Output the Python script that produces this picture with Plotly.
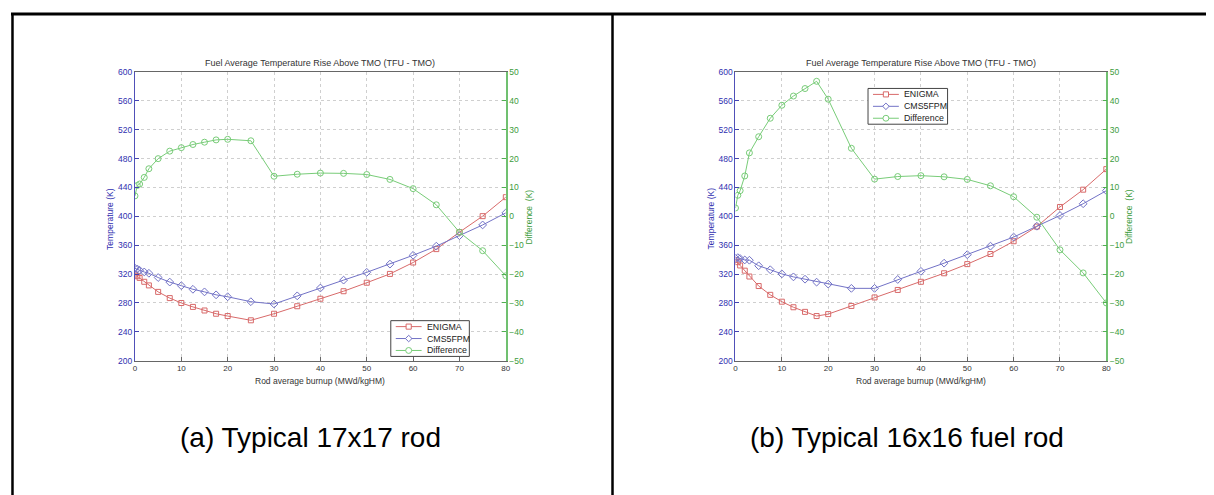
import plotly.graph_objects as go

# ---------------- data ----------------
burnup = [0, 0.5, 1, 2, 3, 5, 7.5, 10, 12.5, 15, 17.5, 20, 25, 30, 35, 40, 45, 50, 55, 60, 65, 70, 75, 80]

enigma_a = [319.3, 317.0, 314.7, 309.3, 304.3, 295.3, 286.7, 279.9, 274.5, 269.5, 265.0, 261.8,
            255.9, 265.0, 275.4, 285.8, 296.2, 308.0, 320.2, 336.0, 354.6, 378.1, 400.3, 426.6]
cms_a = [327.9, 327.0, 325.2, 322.9, 321.1, 315.2, 308.9, 303.9, 298.9, 295.3, 291.2, 288.5,
         281.7, 278.5, 289.8, 300.7, 311.6, 322.4, 333.8, 346.0, 358.7, 373.2, 388.1, 404.8]
diff_a = [7.1, 10.7, 11.2, 13.5, 16.5, 20.0, 22.6, 23.8, 24.9, 25.7, 26.5, 26.7,
          26.2, 13.9, 14.6, 15.0, 14.9, 14.5, 12.8, 9.6, 4.0, -5.5, -11.9, -20.6]

enigma_b = [339.6, 336.5, 331.9, 324.7, 316.6, 303.4, 291.2, 281.7, 274.0, 267.6, 261.8, 264.5,
            275.8, 287.6, 298.0, 309.3, 321.1, 333.8, 347.8, 365.5, 385.8, 413.0, 437.0, 465.5]
cms_b = [341.9, 342.8, 341.5, 339.6, 339.2, 331.5, 326.0, 320.2, 316.1, 312.9, 308.8, 306.1,
         300.2, 300.2, 312.5, 323.8, 335.1, 346.9, 358.7, 371.3, 386.3, 401.2, 417.5, 435.6]
diff_b = [2.9, 7.3, 8.9, 14.0, 22.0, 27.6, 34.0, 38.5, 41.7, 44.3, 46.8, 40.6,
          23.6, 12.9, 13.8, 14.1, 13.7, 12.8, 10.6, 6.8, -0.3, -11.6, -19.6, -30.0]

series_names = ["ENIGMA", "CMS5FPM", "Difference"]
captions = ["(a) Typical 17x17 rod", "(b) Typical 16x16 fuel rod"]
chart_title = "Fuel Average Temperature Rise Above TMO (TFU - TMO)"
x_title = "Rod average burnup (MWd/kgHM)"
y1_title = "Temperature (K)"
y2_title = "Difference  (K)"

# ---------------- layout helpers ----------------
OFF = 8                      # page body margin
W, H = 1214, 495


def px(x):
    return (x - OFF) / W


def py(y):
    return 1 - (y - OFF) / H


RED = "#d86a6a"
BLUE = "#7272c6"
GREEN = "#78cc78"
BLUE_TXT = "#3030b0"
GREEN_TXT = "#3c9c3c"
FONT = "Liberation Sans, Arial, sans-serif"
COLORS = [RED, BLUE, GREEN]

fig = go.Figure()

panels = [
    dict(ena=enigma_a, cms=cms_a, dif=diff_a, x0=133.7, x1=506.7, xa="x", ya="y", ya2="y2",
         leg=(391, 470, 322, 358.5)),
    dict(ena=enigma_b, cms=cms_b, dif=diff_b, x0=737.7, x1=1110.7, xa="x2", ya="y3", ya2="y4",
         leg=(871, 951, 85, 121.5)),
]

ytop, ybot = 68.3, 362.8


def legend_marker(kind, cx, cy, color):
    r = 2.6
    if kind == 0:
        fig.add_shape(type="rect", xref="paper", yref="paper", x0=px(cx - r), x1=px(cx + r),
                      y0=py(cy + r), y1=py(cy - r), line=dict(color=color, width=1),
                      fillcolor="white")
    elif kind == 1:
        d = 3.3
        path = (f"M {px(cx)},{py(cy - d)} L {px(cx + d)},{py(cy)} L {px(cx)},{py(cy + d)} "
                f"L {px(cx - d)},{py(cy)} Z")
        fig.add_shape(type="path", xref="paper", yref="paper", path=path,
                      line=dict(color=color, width=1), fillcolor="white")
    else:
        r = 3.0
        fig.add_shape(type="circle", xref="paper", yref="paper", x0=px(cx - r), x1=px(cx + r),
                      y0=py(cy + r), y1=py(cy - r), line=dict(color=color, width=1),
                      fillcolor="white")


for i, p in enumerate(panels):
    fig.add_trace(go.Scatter(x=burnup, y=p["ena"], name=series_names[0], mode="lines+markers",
                             line=dict(color=RED, width=1),
                             marker=dict(symbol="square-open", size=5, color=RED, line=dict(width=1)),
                             xaxis=p["xa"], yaxis=p["ya"], showlegend=False))
    fig.add_trace(go.Scatter(x=burnup, y=p["cms"], name=series_names[1], mode="lines+markers",
                             line=dict(color=BLUE, width=1),
                             marker=dict(symbol="diamond-open", size=6, color=BLUE, line=dict(width=1)),
                             xaxis=p["xa"], yaxis=p["ya"], showlegend=False))
    fig.add_trace(go.Scatter(x=burnup, y=p["dif"], name=series_names[2], mode="lines+markers",
                             line=dict(color=GREEN, width=1),
                             marker=dict(symbol="circle-open", size=6, color=GREEN, line=dict(width=1)),
                             xaxis=p["xa"], yaxis=p["ya2"], showlegend=False))

    xname = "xaxis" if i == 0 else "xaxis2"
    yname = "yaxis" if i == 0 else "yaxis3"
    y2name = "yaxis2" if i == 0 else "yaxis4"
    fig.update_layout({
        xname: dict(domain=[px(p["x0"]), px(p["x1"])], anchor=p["ya"], range=[0, 80], dtick=10,
                    ticks="inside", ticklen=4, tickcolor="#666", showline=True, linecolor="#666",
                    linewidth=1, mirror=True, showgrid=True, gridcolor="#cfcfcf", griddash="dot",
                    zeroline=False, tickfont=dict(size=8, color="#333", family=FONT)),
        yname: dict(domain=[py(ybot), py(ytop)], anchor=p["xa"], range=[200, 600], dtick=40,
                    ticks="inside", ticklen=4, tickcolor="#4444b0", showline=True, linecolor="#5050b8",
                    linewidth=1, showgrid=True, gridcolor="#cfcfcf", griddash="dot", zeroline=False,
                    tickfont=dict(size=8.5, color=BLUE_TXT, family=FONT)),
        y2name: dict(overlaying=p["ya"], anchor=p["xa"], side="right", range=[-50, 50], dtick=10,
                     ticks="inside", ticklen=4, tickcolor="#50b050", showline=True, linecolor="#70c070",
                     linewidth=1.5, showgrid=False, zeroline=False,
                     tickfont=dict(size=8.5, color=GREEN_TXT, family=FONT)),
    })

    cx = (p["x0"] + p["x1"]) / 2
    fig.add_annotation(x=px(cx), y=py(59), xref="paper", yref="paper", text=chart_title,
                       showarrow=False, font=dict(size=9, color="#333", family=FONT),
                       xanchor="center", yanchor="middle")
    fig.add_annotation(x=px(cx), y=py(384), xref="paper", yref="paper", text=x_title,
                       showarrow=False, font=dict(size=8.5, color="#333", family=FONT),
                       xanchor="center", yanchor="middle")
    fig.add_annotation(x=px(p["x0"] - 25), y=py(218), xref="paper", yref="paper", text=y1_title,
                       showarrow=False, textangle=-90, font=dict(size=8.5, color=BLUE_TXT, family=FONT),
                       xanchor="center", yanchor="middle")
    fig.add_annotation(x=px(p["x1"] + 23), y=py(216), xref="paper", yref="paper", text=y2_title,
                       showarrow=False, textangle=-90, font=dict(size=8.5, color=GREEN_TXT, family=FONT),
                       xanchor="center", yanchor="middle")
    fig.add_annotation(x=px(310 + 600 * i), y=py(441), xref="paper", yref="paper", text=captions[i],
                       showarrow=False, font=dict(size=28, color="#000", family=FONT),
                       xanchor="center", yanchor="middle")

    # legend box (drawn manually to keep MATLAB-like compact rows)
    lx0, lx1, ly0, ly1 = p["leg"]
    fig.add_shape(type="rect", xref="paper", yref="paper", x0=px(lx0), x1=px(lx1),
                  y0=py(ly1), y1=py(ly0), line=dict(color="#444", width=1), fillcolor="white")
    row_h = (ly1 - ly0) / 3
    for k in range(3):
        cy = ly0 + row_h * (k + 0.5)
        sx0, sx1 = lx0 + 5, lx0 + 31
        fig.add_shape(type="line", xref="paper", yref="paper", x0=px(sx0), x1=px(sx1),
                      y0=py(cy), y1=py(cy), line=dict(color=COLORS[k], width=1))
        legend_marker(k, (sx0 + sx1) / 2, cy, COLORS[k])
        fig.add_annotation(x=px(sx1 + 3), y=py(cy), xref="paper", yref="paper",
                           text=series_names[k], showarrow=False, xanchor="left", yanchor="middle",
                           font=dict(size=8.8, color="#222", family=FONT))

# table borders
for sh in [
    dict(x0=px(9), x1=1.0, y0=py(9), y1=py(9), w=3),
    dict(x0=px(10.5), x1=px(10.5), y0=py(8), y1=0, w=2.5),
    dict(x0=px(614), x1=px(614), y0=py(8), y1=0, w=2.5),
]:
    fig.add_shape(type="line", xref="paper", yref="paper", x0=sh["x0"], x1=sh["x1"],
                  y0=sh["y0"], y1=sh["y1"], line=dict(color="black", width=sh["w"]))

fig.update_layout(width=W, height=H, margin=dict(l=0, r=0, t=0, b=0),
                  paper_bgcolor="white", plot_bgcolor="white", showlegend=False,
                  font=dict(family=FONT))

fig.write_html("out.html")
